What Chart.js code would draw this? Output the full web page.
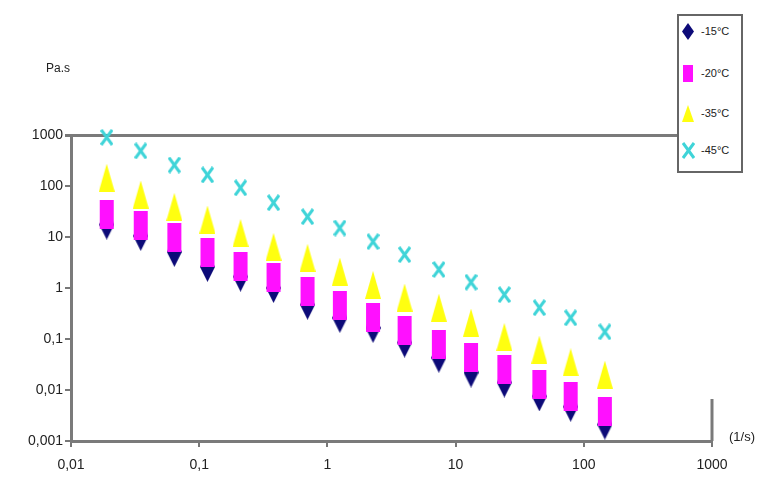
<!DOCTYPE html>
<html>
<head>
<meta charset="utf-8">
<script src="https://cdn.jsdelivr.net/npm/chart.js@4.4.0/dist/chart.umd.min.js"></script>
<style>
  html, body { margin: 0; padding: 0; background: #fff; }
  #wrap { position: relative; width: 771px; height: 487px; filter: blur(0.4px); }
  #chart { position: absolute; left: 0; top: 0; }
  .lbl { position: absolute; font-family: "Liberation Sans", Arial, sans-serif; color: #222; white-space: nowrap; }
  #legend { position: absolute; left: 677px; top: 14px; width: 62px; height: 155px; border: 2px solid #666; background: #fff; }
  #legend canvas { position: absolute; left: 3px; }
  #legend span { position: absolute; left: 22px; font: 11px "Liberation Sans Narrow", "Liberation Sans", Arial, sans-serif; color: #222; }
</style>
</head>
<body>
<div id="wrap">
  <canvas id="chart" width="771" height="487"></canvas>
  <div class="lbl" style="left:46px; top:61px; font-size:12px;">Pa.s</div>
  <div class="lbl" style="left:729px; top:429px; font-size:13px;">(1/s)</div>
  <div id="legend"></div>
</div>
<script>
// Taux de cisaillement (1/s)
const shearRates = [0.019, 0.035, 0.064, 0.116, 0.21, 0.38, 0.7, 1.25, 2.27, 4.0, 7.4, 13.2, 24, 45, 79, 146];

// Viscosité (Pa.s) par température
const seriesNames = ['-15°C', '-20°C', '-35°C', '-45°C'];
const visc15 = [17.5, 10.5, 5.1, 2.6, 1.67, 1.0, 0.47, 0.26, 0.165, 0.085, 0.043, 0.022, 0.014, 0.0075, 0.0047, 0.0021];
const visc20 = [28, 17, 9.6, 4.9, 2.7, 1.6, 0.85, 0.45, 0.27, 0.15, 0.077, 0.043, 0.025, 0.013, 0.0075, 0.0038];
const visc35 = [145, 68, 39, 22, 12, 6.4, 3.9, 2.1, 1.15, 0.65, 0.41, 0.21, 0.11, 0.062, 0.035, 0.02];
const visc45 = [900, 487, 258, 165, 92, 47, 25, 15, 8.1, 4.5, 2.3, 1.3, 0.74, 0.41, 0.26, 0.138];

// Graduations des axes
const xTickValues = [0.01, 0.1, 1, 10, 100, 1000];
const xTickLabels = ['0,01', '0,1', '1', '10', '100', '1000'];
const yTickValues = [0.001, 0.01, 0.1, 1, 10, 100, 1000];
const yTickLabels = ['0,001', '0,01', '0,1', '1', '10', '100', '1000'];

const colors = ['#0c0a78', '#ff10ff', '#ffff10', '#3fd4d8'];
const shapes = ['diamond', 'rect', 'triangle', 'cross'];

// Marqueurs allongés (comme dans Excel)
function makeMarker(kind, w, h, color) {
    const c = document.createElement('canvas');
    c.width = w;
    c.height = h;
    const g = c.getContext('2d');
    g.fillStyle = color;
    g.strokeStyle = color;
    if (kind === 'diamond') {
        g.beginPath();
        g.moveTo(w / 2, 0); g.lineTo(w, h / 2); g.lineTo(w / 2, h); g.lineTo(0, h / 2);
        g.closePath();
        g.fill();
    } else if (kind === 'rect') {
        g.fillRect(1, 0, w - 2, h);
    } else if (kind === 'triangle') {
        g.beginPath();
        g.moveTo(w / 2, 0); g.lineTo(w, h); g.lineTo(0, h);
        g.closePath();
        g.fill();
    } else {
        g.lineWidth = 3;
        g.beginPath();
        g.moveTo(1, 1); g.lineTo(w - 1, h - 1);
        g.moveTo(w - 1, 1); g.lineTo(1, h - 1);
        g.stroke();
    }
    return c;
}

const plotMarkers = [
    makeMarker('diamond', 15, 30, colors[0]),
    makeMarker('rect', 16, 29, colors[1]),
    makeMarker('triangle', 16, 28, colors[2]),
    makeMarker('cross', 13, 17, colors[3])
];

const allSeries = [visc15, visc20, visc35, visc45];

const datasets = allSeries.map((vals, i) => ({
    label: seriesNames[i],
    data: shearRates.map((x, j) => ({ x: x, y: vals[j] })),
    pointStyle: plotMarkers[i],
    pointRadius: 8,
    showLine: false,
    clip: false,
    order: 4 - i
}));

// Traits du cadre (bord droit partiel)
const frameLines = {
    id: 'frameLines',
    afterDatasetsDraw(chart) {
        const { ctx, chartArea: a } = chart;
        ctx.save();
        ctx.strokeStyle = '#7a7a7a';
        ctx.lineWidth = 3;
        ctx.beginPath();
        ctx.moveTo(a.right, a.bottom - 42);
        ctx.lineTo(a.right, a.bottom);
        ctx.stroke();
        ctx.restore();
    }
};

new Chart(document.getElementById('chart'), {
    type: 'scatter',
    data: { datasets: datasets },
    plugins: [frameLines],
    options: {
        responsive: false,
        animation: false,
        layout: { padding: { top: 135, right: 59, bottom: 0, left: 0 } },
        plugins: {
            legend: { display: false },
            tooltip: { enabled: false }
        },
        scales: {
            x: {
                type: 'logarithmic',
                min: 0.01,
                max: 1000,
                afterBuildTicks: s => { s.ticks = xTickValues.map(v => ({ value: v })); },
                afterFit: s => { s.height = 46; },
                border: { color: '#7a7a7a', width: 3 },
                grid: { drawOnChartArea: false, tickLength: 6, color: '#777', lineWidth: 2 },
                ticks: {
                    autoSkip: false,
                    maxRotation: 0,
                    padding: 10,
                    color: '#222',
                    font: { family: '"Liberation Sans", Arial, sans-serif', size: 14 },
                    callback: (v, i) => xTickLabels[i]
                }
            },
            y: {
                type: 'logarithmic',
                min: 0.001,
                max: 1000,
                afterBuildTicks: s => { s.ticks = yTickValues.map(v => ({ value: v })); },
                afterFit: s => { s.width = 71; },
                border: { color: '#7a7a7a', width: 3 },
                grid: {
                    drawOnChartArea: true,
                    tickLength: 6,
                    tickColor: '#777',
                    color: c => (c.tick && c.tick.value === 1000 ? '#7a7a7a' : 'rgba(0,0,0,0)'),
                    lineWidth: c => (c.tick && c.tick.value === 1000 ? 3 : 2)
                },
                ticks: {
                    autoSkip: false,
                    padding: 2,
                    color: '#222',
                    font: { family: '"Liberation Sans", Arial, sans-serif', size: 14 },
                    callback: (v, i) => yTickLabels[i]
                }
            }
        }
    }
});

// Légende encadrée en haut à droite
const legendBox = document.getElementById('legend');
const legendTops = [8, 50, 90, 127];
seriesNames.forEach((name, i) => {
    const m = makeMarker(shapes[i], i === 3 ? 13 : 12, 17, colors[i]);
    m.style.top = (legendTops[i] - 1) + 'px';
    legendBox.appendChild(m);
    const t = document.createElement('span');
    t.textContent = name;
    t.style.top = (legendTops[i] + 1) + 'px';
    legendBox.appendChild(t);
});
</script>
</body>
</html>
